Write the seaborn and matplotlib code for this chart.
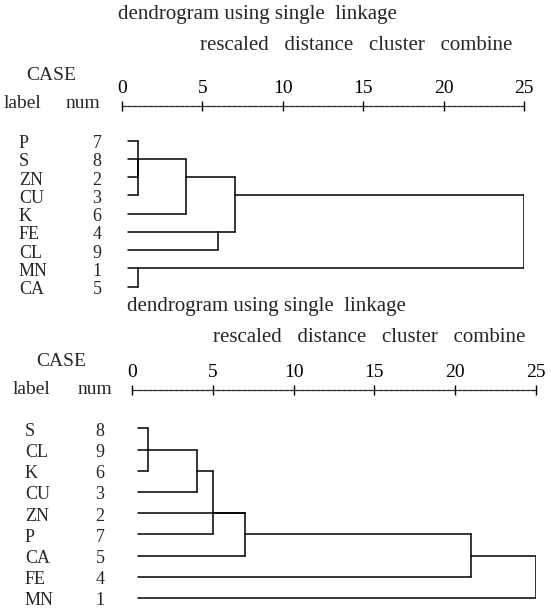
import matplotlib
matplotlib.use("Agg")
import matplotlib.pyplot as plt
import matplotlib.transforms as mtransforms
import pandas as pd
import seaborn as sns

# ---- data: upper dendrogram ----
top_labels = ["P", "S", "ZN", "CU", "K", "FE", "CL", "MN", "CA"]
top_nums = [7, 8, 2, 3, 6, 4, 9, 1, 5]
# merge k creates node 9+k from child_a[k] and child_b[k] (leaves are 0..8)
top_child_a = [0, 9, 10, 11, 5, 12, 7, 14]
top_child_b = [1, 2, 3, 4, 6, 13, 8, 15]
top_heights = [1, 1, 1, 4, 6, 7, 1, 25]
top_out_rows = [1, 1, 1, 2, 5, 3, 7, None]

# ---- data: lower dendrogram ----
bot_labels = ["S", "CL", "K", "CU", "ZN", "P", "CA", "FE", "MN"]
bot_nums = [8, 9, 6, 3, 2, 7, 5, 4, 1]
bot_child_a = [0, 9, 10, 11, 4, 13, 14, 15]
bot_child_b = [1, 2, 3, 5, 12, 6, 7, 8]
bot_heights = [1, 1, 4, 5, 7, 7, 21, 25]
bot_out_rows = [1, 1, 2, 4, 4, 5, 6, None]

axis_ticks = [0, 5, 10, 15, 20, 25]

W, H = 551, 610
LEAF_X0 = 0.35  # leaf lines start a little right of 0


def segments(n_leaves, child_a, child_b, heights, out_rows):
    nodes = {i: (LEAF_X0, i) for i in range(n_leaves)}
    rows = []
    seg = 0
    for k, (a, b, h) in enumerate(zip(child_a, child_b, heights)):
        xa, ya = nodes[a]
        xb, yb = nodes[b]
        for xs, ys in [((xa, h), (ya, ya)), ((xb, h), (yb, yb)), ((h, h), (ya, yb))]:
            for x, y in zip(xs, ys):
                rows.append({"seg": seg, "x": x, "y": y})
            seg += 1
        nodes[n_leaves + k] = (h, out_rows[k])
    return pd.DataFrame(rows)


def rect(x0, x1, y0, y1):
    return [x0 / W, 1 - y1 / H, (x1 - x0) / W, (y1 - y0) / H]


def draw_panel(fig, box, ylim, labels, nums, child_a, child_b, heights, out_rows,
               name_x, num_x, heads):
    ax = fig.add_axes(rect(*box))
    df = segments(len(labels), child_a, child_b, heights, out_rows)
    sns.lineplot(data=df, x="x", y="y", units="seg", estimator=None, sort=False,
                 color="black", linewidth=1.1, ax=ax, legend=False)
    ax.set_xlim(0, 25)
    ax.set_ylim(*ylim)
    ax.set_xlabel("")
    ax.set_ylabel("")
    ax.set_yticks([])
    ax.set_xticks(axis_ticks)
    ax.xaxis.tick_top()
    ax.tick_params(axis="x", direction="inout", length=7, width=1, pad=3,
                   labelsize=14, top=True, bottom=False, colors="black")
    for s in ["left", "right", "bottom"]:
        ax.spines[s].set_visible(False)
    ax.spines["top"].set_linestyle((0, (3, 1.2)))
    ax.spines["top"].set_linewidth(0.9)
    ax.patch.set_alpha(0)

    # row labels sit a few pixels below their branch line
    tr = mtransforms.blended_transform_factory(fig.transFigure, ax.transData)
    tr = mtransforms.offset_copy(tr, fig=fig, x=0, y=-3, units="dots")
    for i, (lab, num) in enumerate(zip(labels, nums)):
        ax.text(name_x / W, i, lab, transform=tr, ha="left", va="center", fontsize=13)
        ax.text(num_x / W, i, str(num), transform=tr, ha="center", va="center", fontsize=13)

    for txt, x, y, ha, size in heads:
        fig.text(x / W, 1 - y / H, txt, ha=ha, va="center", fontsize=size)
    return ax


sns.set_theme(style="white")
plt.rcParams["font.family"] = ["Liberation Serif", "DejaVu Serif"]

fig = plt.figure(figsize=(W / 100, H / 100), dpi=100)

draw_panel(fig, (122, 524, 105.7, 297.7), (8.6, -1.92),
           top_labels, top_nums, top_child_a, top_child_b, top_heights, top_out_rows,
           name_x=19, num_x=97,
           heads=[("dendrogram using single  linkage", 118, 15, "left", 15),
                  ("rescaled   distance   cluster   combine", 200, 46, "left", 15),
                  ("CASE", 51, 76, "center", 14),
                  ("label", 4, 103, "left", 14),
                  ("num", 66, 103, "left", 14)])

draw_panel(fig, (132, 536, 390, 609), (8.52, -1.81),
           bot_labels, bot_nums, bot_child_a, bot_child_b, bot_heights, bot_out_rows,
           name_x=25, num_x=100,
           heads=[("dendrogram using single  linkage", 127, 307, "left", 15),
                  ("rescaled   distance   cluster   combine", 213, 338, "left", 15),
                  ("CASE", 61, 362, "center", 14),
                  ("label", 13, 390, "left", 14),
                  ("num", 78, 390, "left", 14)])

fig.savefig("out.png", dpi=100)
